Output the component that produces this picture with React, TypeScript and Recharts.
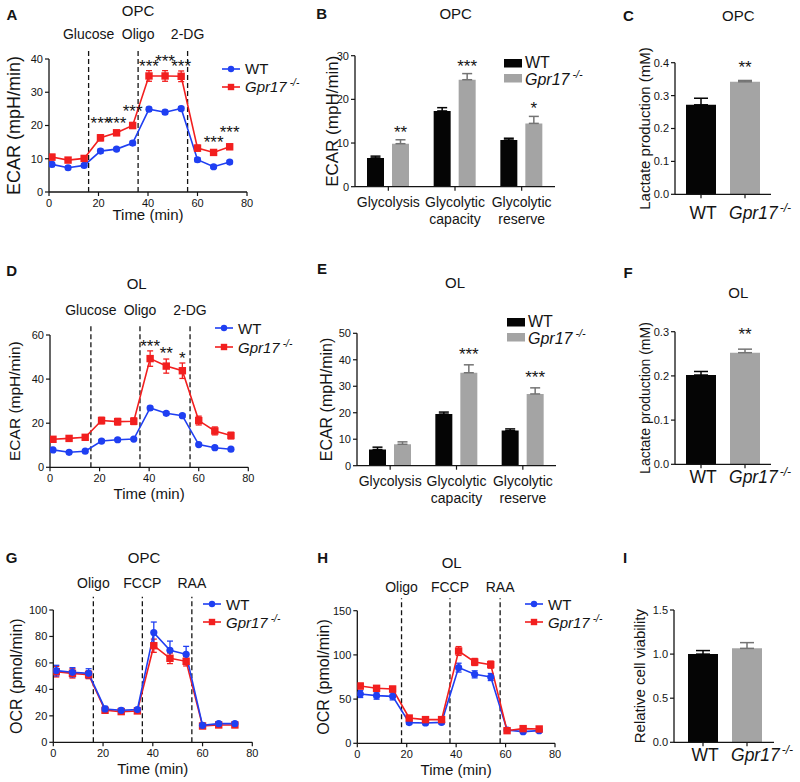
import React from 'react';
import {
  LineChart, Line, BarChart, Bar, Cell, XAxis, YAxis, ReferenceLine, ErrorBar, LabelList, Legend,
} from 'recharts';

const PAGE_W = 800;
const PAGE_H = 782;
const FONT = '"Liberation Sans", Arial, Helvetica, sans-serif';
const BLUE = '#1f3ff2';
const RED = '#f21f1f';
const BLACK = '#050505';
const GRAY = '#a4a4a4';
const GRAY_ERR = '#747474';
const INK = '#141414';

const SERIES = ['WT', 'Gpr17-/-'];

// Seahorse measurement times (min)
const TIME = [1.2, 7.7, 14.2, 20.8, 27.3, 33.8, 40.4, 46.9, 53.4, 60, 66.5, 73];
const TIME_H = [1.2, 7.8, 14.3, 21, 27.6, 34.1, 41, 47.5, 54, 60.6, 67.1, 73.6];
const TIME_TICKS = [0, 20, 40, 60, 80];

const ECAR_DRUGS = ['Glucose', 'Oligo', '2-DG'];
const OCR_DRUGS = ['Oligo', 'FCCP', 'RAA'];

// A - OPC ECAR
const A_INJECT = [16, 36, 56];
const A_WT = [8.3, 7.3, 8.0, 12.3, 12.9, 14.7, 24.9, 24.0, 25.1, 9.7, 7.6, 9.0];
const A_WT_SEM = [0.6, 0.5, 0.5, 0.6, 0.5, 0.6, 0.6, 0.6, 0.6, 0.6, 0.5, 0.5];
const A_KO = [10.5, 9.6, 10.1, 16.3, 17.8, 20.0, 34.9, 34.9, 34.8, 13.2, 11.9, 13.6];
const A_KO_SEM = [0.8, 0.7, 0.7, 0.9, 0.8, 0.9, 1.6, 1.6, 1.6, 0.9, 0.8, 0.8];
const A_STARS = ['', '', '', '***', '***', '***', '***', '***', '***', '', '***', '***'];
const A_Y_TICKS = [0, 10, 20, 30, 40];

// D - OL ECAR
const D_INJECT = [16.5, 36.3, 56.5];
const D_WT = [7.9, 6.8, 7.3, 11.9, 12.5, 12.8, 26.9, 24.5, 23.4, 10.3, 8.9, 8.2];
const D_WT_SEM = [0.6, 0.5, 0.5, 0.7, 0.6, 0.6, 0.8, 0.7, 0.7, 0.6, 0.5, 0.5];
const D_KO = [12.7, 13.1, 13.6, 21.2, 20.7, 20.9, 49.3, 45.9, 43.8, 21.2, 16.5, 14.4];
const D_KO_SEM = [1.0, 1.0, 1.0, 1.5, 1.5, 1.5, 3.5, 3.2, 3.5, 2.0, 1.8, 1.5];
const D_STARS = ['', '', '', '', '', '', '***', '**', '*', '', '', ''];
const D_Y_TICKS = [0, 20, 40, 60];

// G - OPC OCR
const G_INJECT = [16.1, 35.8, 55.7];
const G_WT = [54.2, 52.9, 52.1, 25.2, 24.2, 24.7, 82.9, 69.5, 66.5, 12.8, 14.1, 14.1];
const G_WT_SEM = [4, 3.5, 3.5, 2, 1.5, 1.5, 8, 7, 6, 1.5, 1.5, 1.5];
const G_KO = [53.4, 52.1, 51.1, 24.2, 23.2, 23.7, 73, 63.5, 61.2, 12.3, 13.1, 13.1];
const G_KO_SEM = [4, 3.5, 3, 2, 1.5, 1.5, 5, 4, 3.5, 1.5, 1.5, 1.5];
const G_Y_TICKS = [0, 20, 40, 60, 80, 100];

// H - OL OCR
const H_INJECT = [17.9, 37.5, 57.8];
const H_WT = [55.8, 53.9, 53.1, 23.4, 23.0, 23.7, 85.6, 78, 75, 15, 13.2, 14.3];
const H_WT_SEM = [4, 4, 4, 2, 2, 2, 5, 4, 4, 2, 2, 2];
const H_KO = [64.8, 62.2, 61.4, 28.6, 26.8, 26.8, 104.4, 92, 89, 14.3, 16.6, 16.2];
const H_KO_SEM = [3, 3, 3, 2, 2, 2, 5, 4, 4, 2, 2, 2];
const H_Y_TICKS = [0, 50, 100, 150];

// B / E - glycolysis parameters
const GLYCO_CATS = ['Glycolysis', 'Glycolytic\ncapacity', 'Glycolytic\nreserve'];
const B_WT = [6.6, 17.35, 10.7];
const B_WT_SEM = [0.4, 0.75, 0.4];
const B_KO = [9.85, 24.5, 14.5];
const B_KO_SEM = [0.9, 1.4, 1.6];
const B_STARS = ['**', '***', '*'];
const B_Y_TICKS = [0, 10, 20, 30];

const E_WT = [6.1, 19.5, 13.25];
const E_WT_SEM = [0.9, 0.75, 0.65];
const E_KO = [8.1, 35.1, 27.1];
const E_KO_SEM = [0.9, 3.0, 2.3];
const E_STARS = ['', '***', '***'];
const E_Y_TICKS = [0, 10, 20, 30, 40, 50];

// C / F / I - genotype bars
const C_VALUES = [0.272, 0.342];
const C_SEM = [0.02, 0.004];
const C_STARS = ['', '**'];
const C_Y_TICKS = [0, 0.1, 0.2, 0.3, 0.4];

const F_VALUES = [0.202, 0.2525];
const F_SEM = [0.008, 0.008];
const F_STARS = ['', '**'];
const F_Y_TICKS = [0, 0.1, 0.2, 0.3];

const I_VALUES = [1.0, 1.065];
const I_SEM = [0.04, 0.065];
const I_STARS = ['', ''];
const I_Y_TICKS = [0, 0.5, 1.0, 1.5];

const courseRows = (t: number[], wt: number[], wtErr: number[], ko: number[], koErr: number[], stars?: string[]) =>
  t.map((x, i) => ({ t: x, wt: wt[i], wtErr: wtErr[i], ko: ko[i], koErr: koErr[i], star: stars ? stars[i] : '' }));

const groupRows = (wt: number[], wtErr: number[], ko: number[], koErr: number[], stars: string[]) =>
  GLYCO_CATS.map((name, i) => ({ name, wt: wt[i], wtErr: wtErr[i], ko: ko[i], koErr: koErr[i], star: stars[i] }));

const genoRows = (values: number[], sem: number[], stars: string[]) =>
  SERIES.map((name, i) => ({ name, value: values[i], err: sem[i], star: stars[i] }));

type Rect = { left: number; top: number; right: number; bottom: number };

const frame = (r: Rect, yW: number, xH: number) => ({
  top: r.top,
  left: r.left - yW,
  right: PAGE_W - r.right,
  bottom: PAGE_H - r.bottom - xH,
});

const layer: React.CSSProperties = { position: 'absolute', left: 0, top: 0 };
const axisLine = { stroke: INK, strokeWidth: 1.3 };
const tickLine = { stroke: INK, strokeWidth: 1.2 };
const tickFont = { fontSize: 11, fill: INK };

function SeriesNameHtml({ name }: { name: string }) {
  if (!name.endsWith('-/-')) return <>{name}</>;
  return (
    <>
      <i>{name.slice(0, -3)}</i>
      <span style={{ fontStyle: 'italic', fontSize: '0.68em', verticalAlign: '0.6em', marginLeft: 3 }}>-/-</span>
    </>
  );
}

function SeriesLegend({ payload, marker, rowH, fontSize }: any) {
  const items = ['wt', 'ko'].map((k) => (payload || []).find((e: any) => e.dataKey === k)).filter(Boolean);
  return (
    <div style={{ fontFamily: FONT, color: INK }}>
      {items.map((e: any) => (
        <div key={e.dataKey} style={{ display: 'flex', alignItems: 'center', height: rowH, whiteSpace: 'nowrap', fontSize, lineHeight: 1 }}>
          <svg width={18} height={10} style={{ flex: 'none' }}>
            {marker === 'line' ? (
              <>
                <line x1={0} x2={18} y1={5} y2={5} stroke={e.color} strokeWidth={1.6} />
                {e.dataKey === 'wt'
                  ? <circle cx={9} cy={5} r={3.2} fill={e.color} />
                  : <rect x={5.8} y={1.8} width={6.4} height={6.4} fill={e.color} />}
              </>
            ) : (
              <rect x={0} y={1} width={18} height={8.5} fill={e.color} />
            )}
          </svg>
          <span style={{ marginLeft: marker === 'line' ? 5 : 3 }}>
            <SeriesNameHtml name={String(e.value)} />
          </span>
        </div>
      ))}
    </div>
  );
}

const circleDot = (color: string) => (p: any) => (
  <circle key={`c-${p.index}`} cx={p.cx} cy={p.cy} r={3.6} fill={color} stroke="none" />
);
const squareDot = (color: string) => (p: any) => (
  <rect key={`s-${p.index}`} x={p.cx - 3.7} y={p.cy - 3.7} width={7.4} height={7.4} fill={color} />
);

// significance stars above the KO points; neighbouring "***" are staggered a little
const pointStars = (lift: number, rows: any[]) => (p: any) => {
  const vb = p.viewBox || {};
  const x = p.x ?? vb.x;
  const y = p.y ?? vb.y;
  if (!p.value || x == null) return null;
  const i = p.index ?? -1;
  const long = (r: any) => !!r && String(r.star).length >= 3;
  const crowded = String(p.value).length >= 3 && (long(rows[i - 1]) || long(rows[i + 1]));
  const extra = crowded && i % 2 === 1 ? 5 : 0;
  return <text x={x} y={y - lift - extra} textAnchor="middle" fontSize={17} fill={INK}>{p.value}</text>;
};

// significance stars above the error bar of a bar
const barStars = (gap: number, rows: any[], valKey: string, errKey: string) => (p: any) => {
  const vb = p.viewBox || {};
  const x = p.x ?? vb.x;
  const y = p.y ?? vb.y;
  const w = p.width ?? vb.width ?? 0;
  const h = p.height ?? vb.height ?? 0;
  if (!p.value || x == null) return null;
  const row = rows[p.index];
  const errPx = row && row[valKey] ? (row[errKey] * h) / row[valKey] : 6;
  return <text x={x + w / 2} y={y - errPx - gap} textAnchor="middle" fontSize={17} fill={INK}>{p.value}</text>;
};

function CategoryTick(p: any) {
  const lines = String(p.payload.value).split('\n');
  return (
    <text x={p.x} y={p.y} textAnchor="middle" fontSize={14} fill={INK}>
      {lines.map((l, i) => (
        <tspan key={i} x={p.x} dy={i === 0 ? '0.71em' : 17}>{l}</tspan>
      ))}
    </text>
  );
}

function GenotypeTick(p: any) {
  const name = String(p.payload.value);
  const ko = name.endsWith('-/-');
  return (
    <text x={p.x + (ko ? 15 : 2)} y={p.y} dy="0.71em" textAnchor="middle" fontSize={17.5} fill={INK}>
      {ko ? (
        <>
          <tspan fontStyle="italic">{name.slice(0, -3)}</tspan>
          <tspan fontStyle="italic" fontSize={12} dx={2} dy={-7}>-/-</tspan>
        </>
      ) : name}
    </text>
  );
}

function yAxisFor(rect: Rect, yMax: number, ticks: number[], label: string, labelX: number, labelSize: number, fmt?: (v: number) => string) {
  const yW = rect.left - labelX + 4;
  return {
    yW,
    axis: (
      <YAxis
        type="number" domain={[0, yMax]} ticks={ticks} interval={0} allowDataOverflow
        width={yW} tickSize={4} tickMargin={2} tick={tickFont} tickLine={tickLine} axisLine={axisLine}
        tickFormatter={fmt}
        label={{ value: label, angle: -90, position: 'insideLeft', offset: 4, fontSize: labelSize, fill: INK, style: { textAnchor: 'middle' } }}
      />
    ),
  };
}

function CoursePanel(p: any) {
  const { yW, axis } = yAxisFor(p.rect, p.yMax, p.yTicks, p.yLabel, p.yLabelX, p.yLabelSize);
  const xH = p.xLabelBase - p.rect.bottom;
  const wt = (
    <Line key="wt" type="linear" dataKey="wt" name={SERIES[0]} stroke={BLUE} strokeWidth={1.6}
      dot={circleDot(BLUE)} activeDot={false} isAnimationActive={false}>
      <ErrorBar dataKey="wtErr" direction="y" width={3} stroke={BLUE} strokeWidth={1.3} isAnimationActive={false} />
    </Line>
  );
  const ko = (
    <Line key="ko" type="linear" dataKey="ko" name={SERIES[1]} stroke={RED} strokeWidth={1.6}
      dot={squareDot(RED)} activeDot={false} isAnimationActive={false}>
      <ErrorBar dataKey="koErr" direction="y" width={3} stroke={RED} strokeWidth={1.3} isAnimationActive={false} />
      <LabelList dataKey="star" content={pointStars(p.starLift, p.rows)} />
    </Line>
  );
  return (
    <div style={layer}>
      <LineChart width={PAGE_W} height={PAGE_H} data={p.rows} margin={frame(p.rect, yW, xH)}>
        <XAxis
          type="number" dataKey="t" domain={[0, 80]} ticks={TIME_TICKS} interval={0} allowDataOverflow
          height={xH} tickSize={4} tickMargin={3} tick={tickFont} tickLine={tickLine} axisLine={axisLine}
          label={{ value: 'Time (min)', position: 'insideBottom', offset: 0, fontSize: 15, fill: INK }}
        />
        {axis}
        {p.drugs.map((d: string, i: number) => (
          <ReferenceLine
            key={d}
            segment={[{ x: p.inject[i], y: 0 }, { x: p.inject[i], y: p.dashTop }]}
            ifOverflow="visible" stroke={INK} strokeWidth={1.3} strokeDasharray="5 3"
            label={{ value: d, position: 'top', offset: p.drugOffset, fontSize: 14, fill: INK }}
          />
        ))}
        {p.wtOnTop ? [ko, wt] : [wt, ko]}
        <Legend
          layout="horizontal" verticalAlign="middle" align="center" width={150}
          wrapperStyle={{ left: p.legend.left, top: p.legend.top, width: 150 }}
          content={(lp: any) => <SeriesLegend payload={lp.payload} marker="line" rowH={p.legend.rowH} fontSize={15} />}
        />
      </LineChart>
    </div>
  );
}

function GlycoPanel(p: any) {
  const { yW, axis } = yAxisFor(p.rect, p.yMax, p.yTicks, 'ECAR (mpH/min)', p.yLabelX, p.yLabelSize);
  const xH = 45;
  return (
    <div style={layer}>
      <BarChart width={PAGE_W} height={PAGE_H} data={p.rows} margin={frame(p.rect, yW, xH)} barGap={8}>
        <XAxis
          dataKey="name" type="category" interval={0} height={xH} tickSize={4} tickMargin={p.tickMargin}
          tick={(t: any) => <CategoryTick {...t} />} tickLine={tickLine} axisLine={axisLine}
        />
        {axis}
        <Bar dataKey="wt" name={SERIES[0]} fill={BLACK} barSize={17} isAnimationActive={false}>
          <ErrorBar dataKey={(d: any) => [0, d.wtErr]} direction="y" width={5} stroke={BLACK} strokeWidth={1.5} isAnimationActive={false} />
        </Bar>
        <Bar dataKey="ko" name={SERIES[1]} fill={GRAY} barSize={17} isAnimationActive={false}>
          <ErrorBar dataKey={(d: any) => [0, d.koErr]} direction="y" width={5} stroke={GRAY_ERR} strokeWidth={1.5} isAnimationActive={false} />
          <LabelList dataKey="star" content={barStars(p.starGap, p.rows, 'ko', 'koErr')} />
        </Bar>
        <Legend
          layout="horizontal" verticalAlign="middle" align="center" width={150}
          wrapperStyle={{ left: p.legend.left, top: p.legend.top, width: 150 }}
          content={(lp: any) => <SeriesLegend payload={lp.payload} marker="bar" rowH={p.legend.rowH} fontSize={16} />}
        />
      </BarChart>
    </div>
  );
}

function GenotypePanel(p: any) {
  const { yW, axis } = yAxisFor(p.rect, p.yMax, p.yTicks, p.yLabel, p.yLabelX, p.yLabelSize, (v: number) => v.toFixed(1));
  const xH = 38;
  return (
    <div style={layer}>
      <BarChart width={PAGE_W} height={PAGE_H} data={p.rows} margin={frame(p.rect, yW, xH)}>
        <XAxis
          dataKey="name" type="category" interval={0} height={xH} padding={p.padding} tickSize={4} tickMargin={p.tickMargin}
          tick={(t: any) => <GenotypeTick {...t} />} tickLine={tickLine} axisLine={axisLine}
        />
        {axis}
        <Bar dataKey="value" barSize={30} isAnimationActive={false}>
          {p.rows.map((r: any, i: number) => <Cell key={r.name} fill={i === 0 ? BLACK : GRAY} />)}
          <ErrorBar dataKey={(d: any) => (d.name === SERIES[0] ? [0, d.err] : undefined)} direction="y" width={7} stroke={BLACK} strokeWidth={1.5} isAnimationActive={false} />
          <ErrorBar dataKey={(d: any) => (d.name === SERIES[1] ? [0, d.err] : undefined)} direction="y" width={7} stroke={GRAY_ERR} strokeWidth={1.5} isAnimationActive={false} />
          <LabelList dataKey="star" content={barStars(p.starGap, p.rows, 'value', 'err')} />
        </Bar>
      </BarChart>
    </div>
  );
}

const HEADINGS = [
  { text: 'A', x: 12, y: 14, bold: true }, { text: 'OPC', x: 138, y: 10 },
  { text: 'B', x: 321.7, y: 13.3, bold: true }, { text: 'OPC', x: 455.7, y: 13.3 },
  { text: 'C', x: 628.3, y: 15, bold: true }, { text: 'OPC', x: 738.3, y: 15 },
  { text: 'D', x: 11.7, y: 270, bold: true }, { text: 'OL', x: 136.7, y: 283.3 },
  { text: 'E', x: 322, y: 268, bold: true }, { text: 'OL', x: 455, y: 281.7 },
  { text: 'F', x: 628, y: 271.7, bold: true }, { text: 'OL', x: 738.3, y: 291.7 },
  { text: 'G', x: 11.7, y: 556.7, bold: true }, { text: 'OPC', x: 144, y: 556.7 },
  { text: 'H', x: 322.7, y: 556.7, bold: true }, { text: 'OL', x: 451.7, y: 561.7 },
  { text: 'I', x: 625, y: 556.7, bold: true },
];

export default function App() {
  return (
    <div style={{ position: 'absolute', left: 0, top: 0, width: PAGE_W, height: PAGE_H, background: '#fff', fontFamily: FONT, color: INK, overflow: 'hidden' }}>
      <CoursePanel
        rows={courseRows(TIME, A_WT, A_WT_SEM, A_KO, A_KO_SEM, A_STARS)}
        rect={{ left: 49, top: 59, right: 247, bottom: 192 }} yMax={40} yTicks={A_Y_TICKS}
        yLabel="ECAR (mpH/min)" yLabelX={13.3} yLabelSize={18} xLabelBase={220.3}
        drugs={ECAR_DRUGS} inject={A_INJECT} dashTop={43.2} drugOffset={9}
        legend={{ left: 222, top: 60, rowH: 17.7 }} starLift={4}
      />
      <CoursePanel
        rows={courseRows(TIME, D_WT, D_WT_SEM, D_KO, D_KO_SEM, D_STARS)}
        rect={{ left: 50, top: 335, right: 248.3, bottom: 467.3 }} yMax={60} yTicks={D_Y_TICKS}
        yLabel="ECAR (mpH/min)" yLabelX={15} yLabelSize={15.5} xLabelBase={498.7}
        drugs={ECAR_DRUGS} inject={D_INJECT} dashTop={64.1} drugOffset={11}
        legend={{ left: 215, top: 319, rowH: 18.5 }} starLift={7}
      />
      <CoursePanel
        rows={courseRows(TIME, G_WT, G_WT_SEM, G_KO, G_KO_SEM)}
        rect={{ left: 53.3, top: 610, right: 252.3, bottom: 742.3 }} yMax={100} yTicks={G_Y_TICKS}
        yLabel="OCR (pmol/min)" yLabelX={16.7} yLabelSize={16} xLabelBase={773.6}
        drugs={OCR_DRUGS} inject={G_INJECT} dashTop={110} drugOffset={9}
        legend={{ left: 203, top: 595, rowH: 18.3 }} starLift={4} wtOnTop
      />
      <CoursePanel
        rows={courseRows(TIME_H, H_WT, H_WT_SEM, H_KO, H_KO_SEM)}
        rect={{ left: 357.3, top: 610.7, right: 555, bottom: 743.3 }} yMax={150} yTicks={H_Y_TICKS}
        yLabel="OCR (pmol/min)" yLabelX={323.3} yLabelSize={16} xLabelBase={775.3}
        drugs={OCR_DRUGS} inject={H_INJECT} dashTop={164} drugOffset={6.6}
        legend={{ left: 525, top: 595, rowH: 18.3 }} starLift={4}
      />
      <GlycoPanel
        rows={groupRows(B_WT, B_WT_SEM, B_KO, B_KO_SEM, B_STARS)}
        rect={{ left: 355, top: 55.7, right: 555, bottom: 186.7 }} yMax={30} yTicks={B_Y_TICKS}
        yLabelX={331.7} yLabelSize={17} tickMargin={6.5} starGap={2}
        legend={{ left: 504, top: 56, rowH: 14.5 }}
      />
      <GlycoPanel
        rows={groupRows(E_WT, E_WT_SEM, E_KO, E_KO_SEM, E_STARS)}
        rect={{ left: 357, top: 333.3, right: 556, bottom: 465.7 }} yMax={50} yTicks={E_Y_TICKS}
        yLabelX={326.7} yLabelSize={16} tickMargin={6.5} starGap={4.7}
        legend={{ left: 507, top: 314.2, rowH: 15.5 }}
      />
      <GenotypePanel
        rows={genoRows(C_VALUES, C_SEM, C_STARS)}
        rect={{ left: 675, top: 62.7, right: 771, bottom: 194.3 }} yMax={0.4} yTicks={C_Y_TICKS}
        yLabel="Lactate production (mM)" yLabelX={645} yLabelSize={15} tickMargin={8}
        padding={{ left: 4, right: 4 }} starGap={7}
      />
      <GenotypePanel
        rows={genoRows(F_VALUES, F_SEM, F_STARS)}
        rect={{ left: 675, top: 331.7, right: 771, bottom: 464.3 }} yMax={0.3} yTicks={F_Y_TICKS}
        yLabel="Lactate production (mM)" yLabelX={645} yLabelSize={14} tickMargin={2}
        padding={{ left: 4, right: 4 }} starGap={9}
      />
      <GenotypePanel
        rows={genoRows(I_VALUES, I_SEM, I_STARS)}
        rect={{ left: 674, top: 610, right: 774, bottom: 742.3 }} yMax={1.5} yTicks={I_Y_TICKS}
        yLabel="Relative cell viability" yLabelX={640} yLabelSize={15} tickMargin={2}
        padding={{ left: 7, right: 5 }} starGap={7}
      />
      {HEADINGS.map((h, i) => (
        <div
          key={i}
          style={{
            position: 'absolute', left: h.x, top: h.y, transform: 'translate(-50%, -50%)',
            fontSize: 15, fontWeight: h.bold ? 700 : 400, lineHeight: 1, whiteSpace: 'nowrap',
          }}
        >
          {h.text}
        </div>
      ))}
    </div>
  );
}
